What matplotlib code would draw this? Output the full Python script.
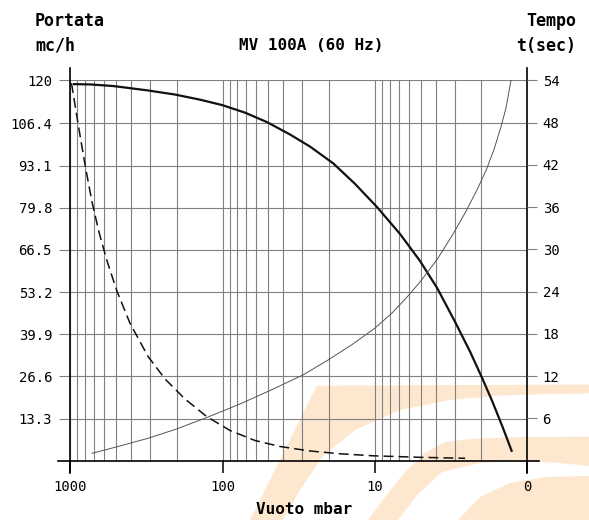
import matplotlib
matplotlib.use('Agg')
import matplotlib.pyplot as plt
from matplotlib.patches import Polygon

# ---------------- data ----------------
# thick curve: flow (mc/h, left axis) vs vacuum (mbar)
flow_p = [960, 742, 524, 309, 205, 141, 101, 71.3, 51.1, 36.1, 26.7, 18.8, 13.5, 9.69,
          6.84, 5.06, 3.91, 2.98, 2.37, 1.98, 1.70, 1.46, 1.26]
flow_q = [118.8, 118.7, 118.2, 116.8, 115.5, 113.9, 112.2, 109.8, 106.8, 102.9, 99.1, 93.8,
          87.3, 80.0, 71.5, 63.0, 54.5, 43.8, 34.3, 26.1, 18.8, 10.9, 2.8]

# thin curve: time (s, right axis) vs vacuum (mbar)
time_p = [720, 472, 309, 205, 127, 76.9, 48.8, 29.7, 20.3, 14.1, 9.98, 7.72, 6.15, 5.06,
          3.91, 3.07, 2.52, 2.14, 1.86, 1.65, 1.49, 1.38, 1.28]
time_t = [1.05, 2.09, 3.18, 4.43, 6.13, 8.05, 9.97, 12.17, 14.30, 16.50, 18.84, 20.97, 23.24,
          25.37, 28.56, 32.18, 35.45, 38.43, 41.27, 44.25, 47.37, 50.07, 54.0]

# dashed curve (left-axis units) vs vacuum (mbar)
dash_p = [982, 931, 864, 789, 720, 648, 574, 494, 406, 309, 239, 177, 127, 89.4, 61.3, 42.0,
          26.7, 16.9, 10.3, 5.06, 2.56]
dash_q = [119.1, 112.2, 102.7, 91.7, 81.6, 72.1, 63.0, 53.5, 43.4, 32.9, 25.8, 19.5, 13.9, 9.53,
          6.37, 4.48, 3.06, 2.18, 1.55, 1.07, 0.76]

x_ticks = [1000, 100, 10, 1]
x_labels = ['1000', '100', '10', '0']
left_ticks = [13.3, 26.6, 39.9, 53.2, 66.5, 79.8, 93.1, 106.4, 120]
left_labels = ['13.3', '26.6', '39.9', '53.2', '66.5', '79.8', '93.1', '106.4', '120']
right_ticks = [6, 12, 18, 24, 30, 36, 42, 48, 54]
right_labels = ['6', '12', '18', '24', '30', '36', '42', '48', '54']

title = 'MV 100A (60 Hz)'
left_title = ['Portata', 'mc/h']
right_title = ['Tempo', 't(sec)']
x_title = 'Vuoto mbar'

# ---------------- figure ----------------
W, H = 589, 520
plt.rcParams['font.family'] = ['DejaVu Sans Mono', 'DejaVu Sans']

fig = plt.figure(figsize=(W / 100, H / 100), dpi=100, facecolor='white')

def fx(px):
    return px / W

def fy(py):
    return 1 - py / H

L, R, T, B = 70.3, 527.3, 80.3, 460.7
ax = fig.add_axes([fx(L), fy(B), (R - L) / W, (B - T) / H])
ax.set_facecolor('none')

# watermark (decorative background logo)
wm = '#fde8cf'
bandA = [(316.7, 385.7), (589, 384.5), (589, 393.5), (550, 394), (500, 395.5), (450, 400),
         (400, 410), (355, 430), (323, 456), (300, 490), (283, 520), (250, 520)]
bandB = [(589, 436.7), (520, 437), (470, 439), (445, 442), (425, 453), (405, 472), (385, 497),
         (368, 520), (398, 520), (418, 494), (442, 472), (480, 463), (520, 461), (560, 463), (589, 466)]
bandC = [(589, 476), (545, 477), (510, 483), (480, 497), (458, 520), (589, 520)]
for poly in (bandA, bandB, bandC):
    fig.patches.append(Polygon([(fx(x), fy(y)) for x, y in poly], closed=True,
                               transform=fig.transFigure, facecolor=wm, edgecolor='none', zorder=-10))

ax.set_xscale('log')
ax.set_xlim(1000, 1)
ax.set_ylim(0, 120)
for s in ax.spines.values():
    s.set_visible(False)

grid_c = '#808080'
tick_fs = 10
ax.set_xticks(x_ticks)
ax.set_xticklabels(x_labels)
ax.xaxis.set_minor_locator(matplotlib.ticker.LogLocator(base=10, subs=range(2, 10)))
ax.xaxis.set_minor_formatter(matplotlib.ticker.NullFormatter())
ax.tick_params(axis='x', which='major', direction='out', length=8.6, width=1.1, color='black',
               pad=5.3, labelsize=tick_fs)
ax.tick_params(axis='x', which='minor', length=0)
ax.grid(True, which='both', axis='x', color=grid_c, linewidth=0.8)

ax.set_yticks(left_ticks)
ax.set_yticklabels(left_labels)
ax.tick_params(axis='y', direction='out', length=7.9, width=0.8, color=grid_c, pad=5.2,
               labelsize=tick_fs)
ax.grid(True, which='major', axis='y', color=grid_c, linewidth=0.8)

ax2 = ax.twinx()
ax2.set_facecolor('none')
ax2.set_ylim(0, 54)
for s in ax2.spines.values():
    s.set_visible(False)
ax2.set_yticks(right_ticks)
ax2.set_yticklabels(right_labels)
ax2.tick_params(axis='y', direction='out', length=7.5, width=0.8, color=grid_c, pad=3.5,
                labelsize=tick_fs)

# axis lines extending beyond the plot area
ex = 12 / (R - L)
ey = 12 / (B - T)
ax.plot([-ex, 1 + ex], [0, 0], transform=ax.transAxes, color='black', lw=1.2, clip_on=False, zorder=3)
ax.plot([0, 0], [-ey, 1 + ey], transform=ax.transAxes, color='black', lw=1.2, clip_on=False, zorder=3)
ax.plot([1, 1], [-ey, 1 + ey], transform=ax.transAxes, color='black', lw=1.2, clip_on=False, zorder=3)

# curves
ax.plot(flow_p, flow_q, color='#111111', lw=1.6, zorder=4, solid_capstyle='butt')
ax.plot(dash_p, dash_q, color='#111111', lw=1.1, dashes=(6.5, 3.3), zorder=4)
ax2.plot(time_p, time_t, color='#555555', lw=0.7, zorder=4)

# texts
fs = 12
fig.text(fx(35), fy(21.5), left_title[0], fontsize=fs, fontweight='bold', ha='left', va='center')
fig.text(fx(35), fy(46), left_title[1], fontsize=fs, fontweight='bold', ha='left', va='center')
fig.text(fx(576), fy(21.5), right_title[0], fontsize=fs, fontweight='bold', ha='right', va='center')
fig.text(fx(576), fy(46), right_title[1], fontsize=fs, fontweight='bold', ha='right', va='center')
fig.text(fx(311), fy(45), title, fontsize=11.5, fontweight='bold', ha='center', va='center')
fig.text(fx(304), fy(509), x_title, fontsize=11.5, fontweight='bold', ha='center', va='center')

fig.savefig('out.png', dpi=100, facecolor='white')
